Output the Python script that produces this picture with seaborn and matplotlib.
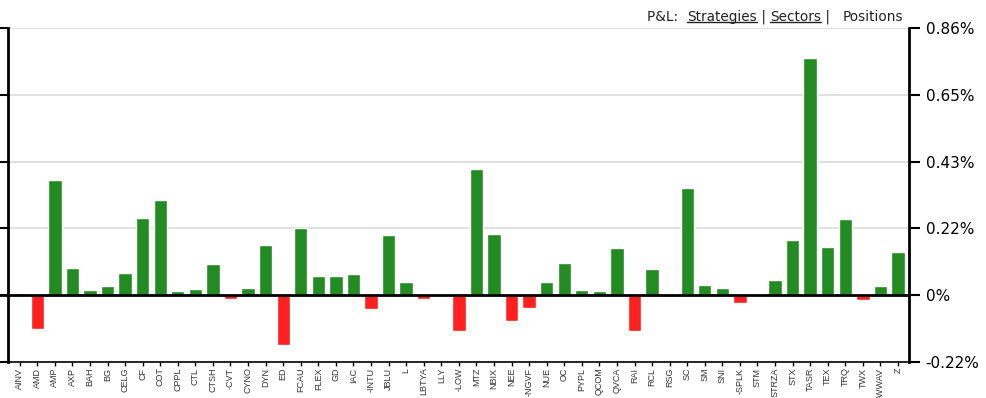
import numpy as np
import pandas as pd
import matplotlib
matplotlib.use("Agg")
import matplotlib.pyplot as plt
import seaborn as sb
from matplotlib.lines import Line2D

tickers = ["AINV", "AMD", "AMP", "AXP", "BAH", "BG", "CELG", "CF", "COT", "CPPL",
           "CTL", "CTSH", "-CVT", "CYNO", "DYN", "ED", "FCAU", "FLEX", "GD", "IAC",
           "-INTU", "JBLU", "L", "LBTYA", "LLY", "-LOW", "MTZ", "NBIX", "NEE", "-NGVF",
           "NUE", "OC", "PYPL", "QCOM", "QVCA", "RAI", "RCL", "RSG", "SC", "SM",
           "SNI", "-SPLK", "STM", "STRZA", "STX", "TASR", "TEX", "TRQ", "TWX", "-WWAV", "Z"]
pnl = [0.007, -0.108, 0.372, 0.089, 0.018, 0.030, 0.071, 0.248, 0.306, 0.012,
       0.021, 0.100, -0.011, 0.024, 0.160, -0.161, 0.217, 0.062, 0.063, 0.067,
       -0.043, 0.194, 0.044, -0.011, 0.0, -0.116, 0.406, 0.198, -0.083, -0.040,
       0.042, 0.105, 0.017, 0.012, 0.152, -0.114, 0.083, -0.007, 0.345, 0.032,
       0.022, -0.025, 0.004, 0.048, 0.178, 0.765, 0.156, 0.244, -0.016, 0.030, 0.138]
yticks = [-0.215, 0, 0.215, 0.43, 0.645, 0.86]
ylabels = ["-0.22%", "0%", "0.22%", "0.43%", "0.65%", "0.86%"]

df = pd.DataFrame({"ticker": tickers, "pnl": pnl})
colors = ["#228b22" if v >= 0 else "#ff2020" for v in df["pnl"]]

sb.set_style("white")
plt.rcParams["font.family"] = ["DejaVu Sans"]

fig = plt.figure(figsize=(9.86, 3.98), dpi=100)
ax = fig.add_axes([8 / 986, 1 - 362 / 398, 901 / 986, 334 / 398])

for t in yticks[2:]:
    ax.axhline(t, color="#dcdcdc", lw=1.2, zorder=0)

sb.barplot(data=df, x="ticker", y="pnl", hue="ticker", palette=colors,
           legend=False, width=0.76, saturation=1, ax=ax, zorder=2)
ax.axhline(0, color="black", lw=2, zorder=3)
ax.plot([-0.02, 0], [0, 0], transform=ax.get_yaxis_transform(), color="black",
        lw=2, clip_on=False)

ax.set_xlim(-0.666, 50.626)
ax.set_ylim(-0.215, 0.86)
ax.set_xlabel("")
ax.set_ylabel("")

for s in ["left", "right", "bottom"]:
    ax.spines[s].set_visible(True)
    ax.spines[s].set_color("black")
ax.spines["left"].set_linewidth(2)
ax.spines["right"].set_linewidth(2)
ax.spines["bottom"].set_linewidth(1.2)
ax.spines["top"].set_visible(False)

ax.yaxis.tick_right()
ax.set_yticks(yticks)
ax.set_yticklabels(ylabels, fontsize=11, color="black")
ax.tick_params(axis="y", which="both", left=True, right=True, direction="out",
               length=8, width=1.5, color="black", pad=4)
ax.tick_params(axis="x", direction="out", length=3, width=1, color="black",
               bottom=True, pad=1)
ax.set_xticks(range(len(tickers)))
ax.set_xticklabels(tickers, rotation=90, fontsize=6.5, color="#333333",
                   family="Liberation Sans")

# header links
y_top = 1 - 17 / 398
parts = [("P&L:  ", False), ("Strategies", True), (" | ", False),
         ("Sectors", True), (" |   ", False), ("Positions", False)]
fig.canvas.draw()
renderer = fig.canvas.get_renderer()
x = 647 / 986
for txt, under in parts:
    t = fig.text(x, y_top, txt, fontsize=9.8, color="#222222", va="center", ha="left")
    bb = t.get_window_extent(renderer).transformed(fig.transFigure.inverted())
    if under:
        fig.add_artist(Line2D([bb.x0, bb.x1], [bb.y0 + 0.004, bb.y0 + 0.004],
                              transform=fig.transFigure, color="#222222", lw=1))
    x = bb.x1

fig.savefig("out.png", dpi=100)
